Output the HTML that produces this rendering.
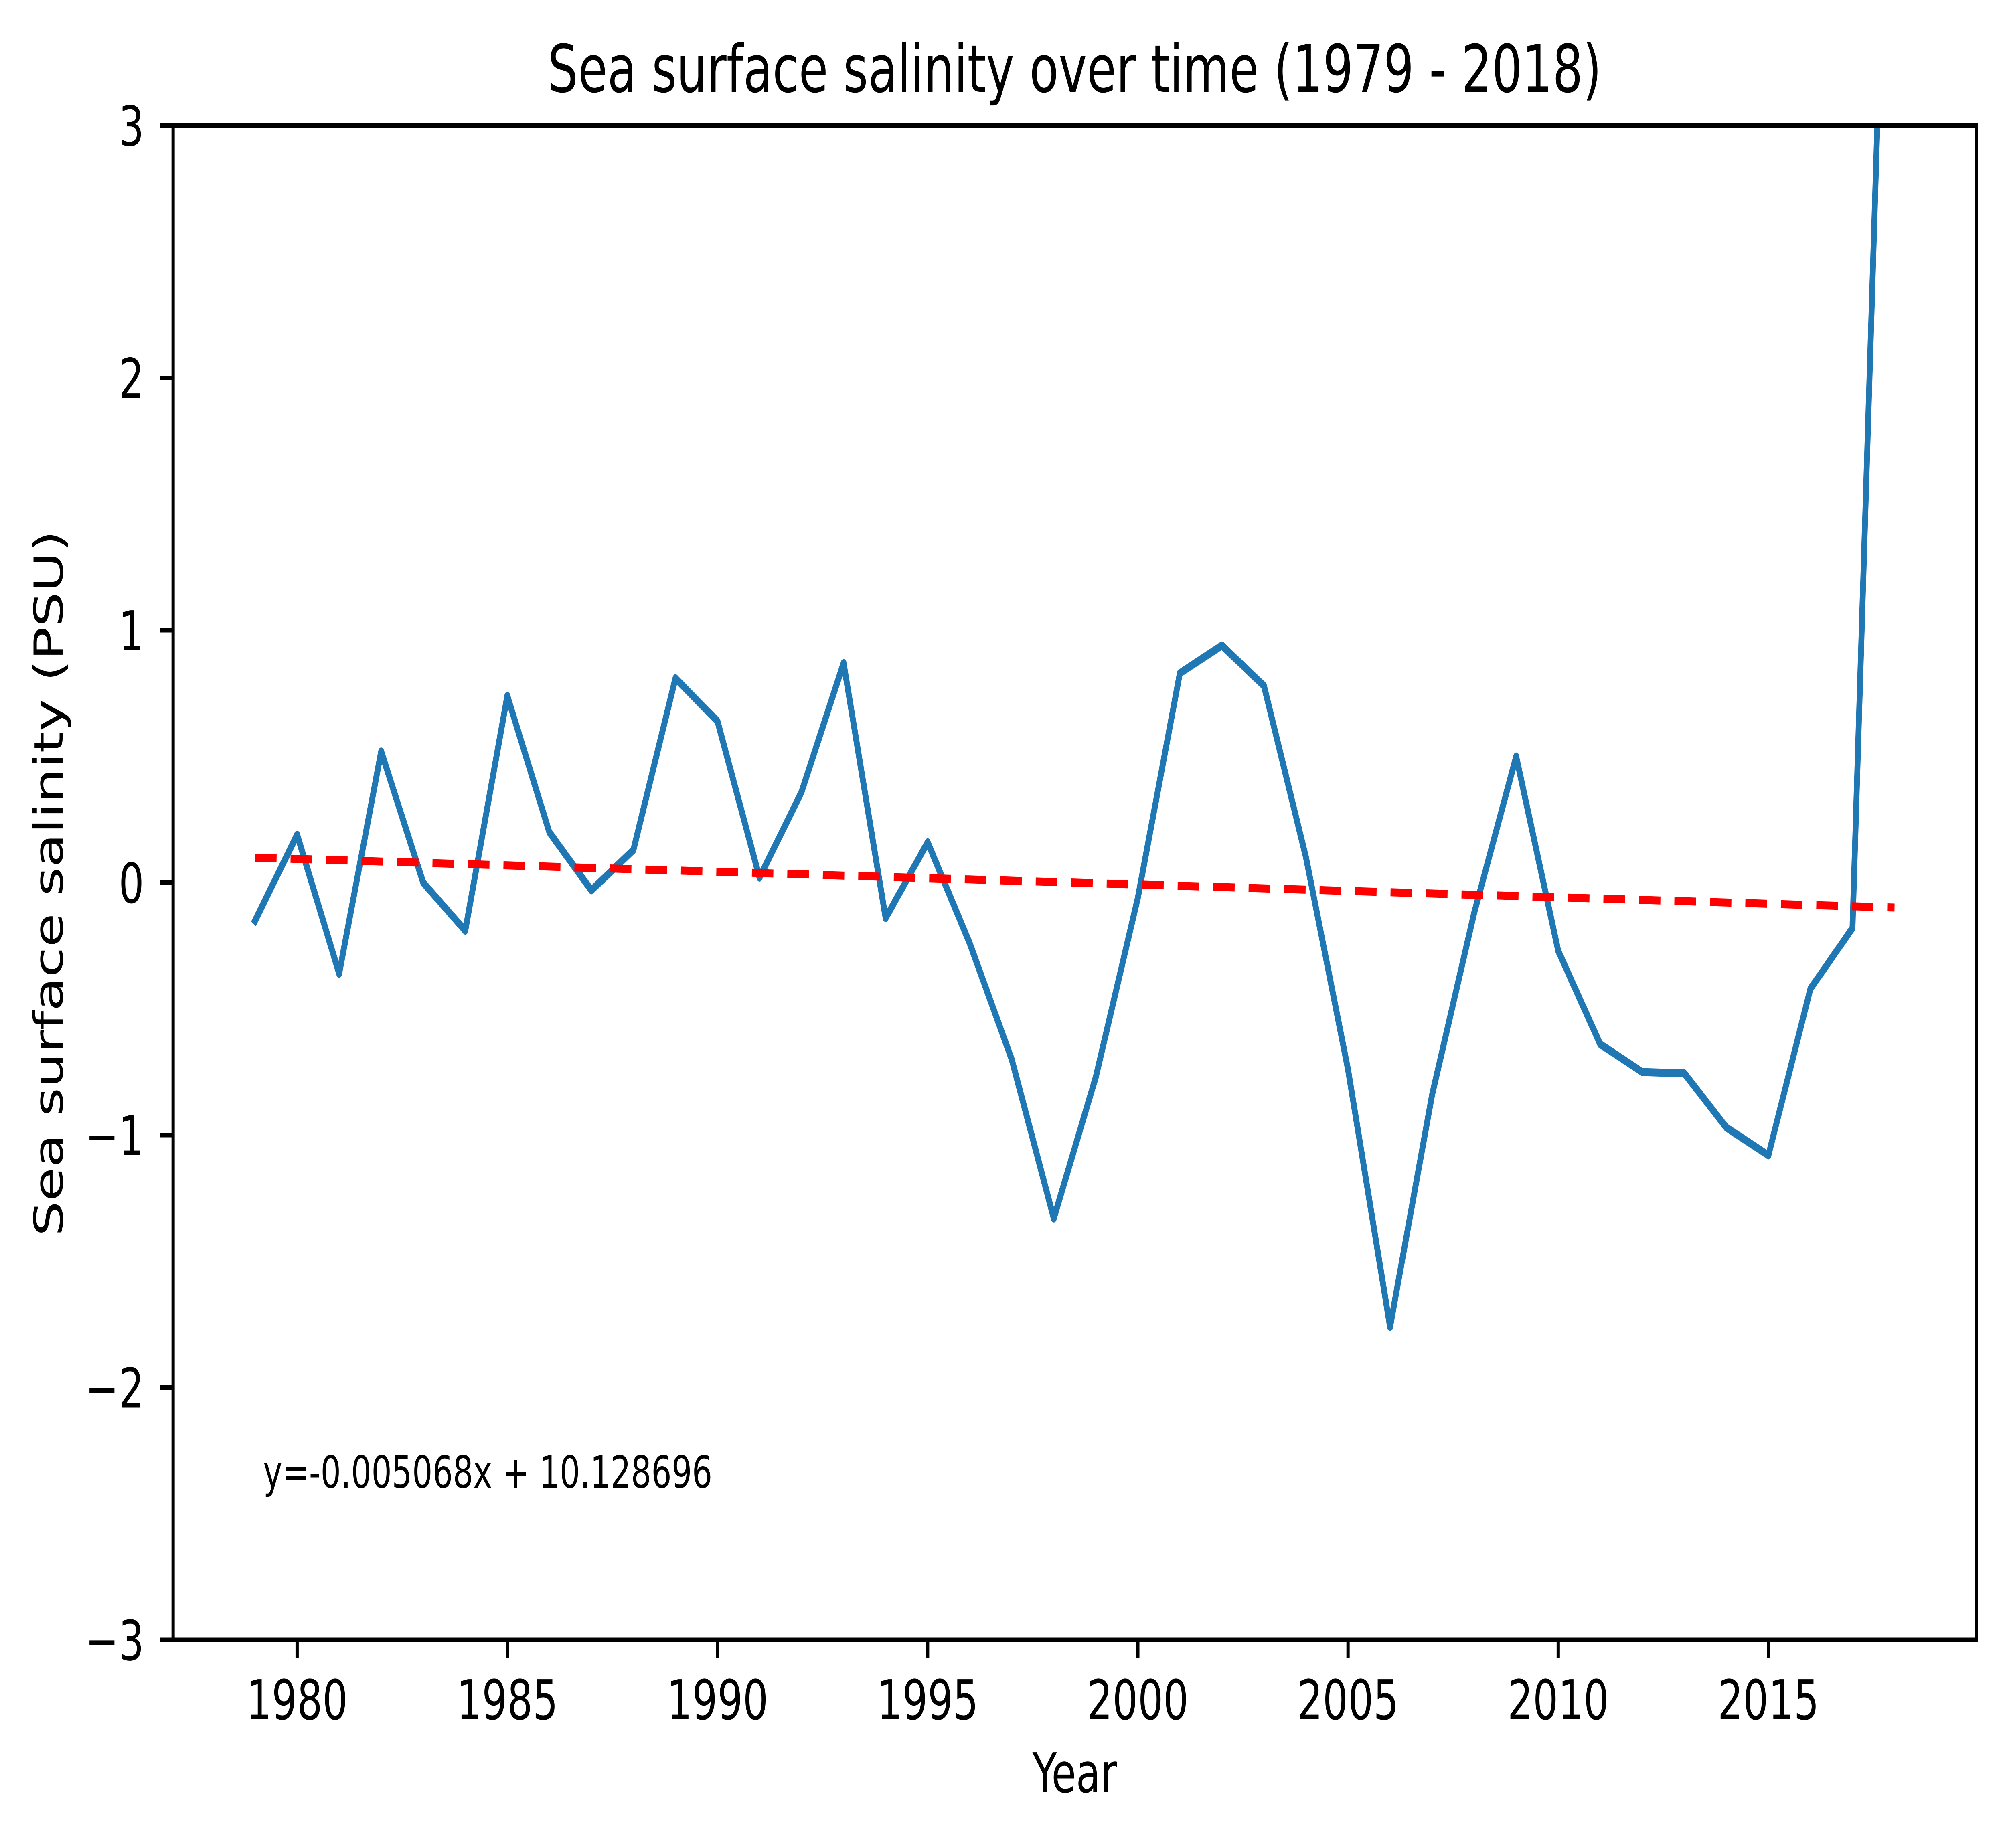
<!DOCTYPE html>
<html><head><meta charset="utf-8"><style>
html,body{margin:0;padding:0;background:#fff;overflow:hidden;width:100%;height:100%;}
svg{display:block;font-family:"DejaVu Sans","Liberation Sans",sans-serif;width:100vw;height:100vh;}
</style></head><body>
<svg id="chart" viewBox="0 0 6892 4609" preserveAspectRatio="none" xmlns="http://www.w3.org/2000/svg">
<rect x="0" y="0" width="6892" height="4609" fill="#fff"/>
<text x="3694" y="229" font-size="164" text-anchor="middle">Sea surface salinity over time (1979 - 2018)</text>
<text x="3694" y="4470" font-size="137" text-anchor="middle">Year</text>
<text x="0" y="0" font-size="137" text-anchor="middle" transform="translate(215,2203) rotate(-90)">Sea surface salinity (PSU)</text>
<defs><clipPath id="plotclip"><rect x="595" y="313" width="6199" height="3781"/></clipPath></defs>
<g id="plot" clip-path="url(#plotclip)"></g>
<g id="axes"></g>
<text x="905" y="3710" font-size="110">y=-0.005068x + 10.128696</text>
</svg>
<script>
const years = [1979,1980,1981,1982,1983,1984,1985,1986,1987,1988,1989,1990,1991,1992,1993,1994,1995,1996,1997,1998,1999,2000,2001,2002,2003,2004,2005,2006,2007,2008,2009,2010,2011,2012,2013,2014,2015,2016,2017,2018];
const salinity = [-0.15,0.19,-0.36,0.52,0.0,-0.19,0.74,0.2,-0.03,0.13,0.81,0.64,0.02,0.36,0.87,-0.14,0.16,-0.24,-0.70,-1.33,-0.77,-0.06,0.83,0.94,0.78,0.10,-0.74,-1.76,-0.84,-0.12,0.50,-0.27,-0.64,-0.75,-0.755,-0.97,-1.08,-0.42,-0.18,5.2];
const trendSlope = -0.005068;
const trendIntercept = 10.128696;
const xTicks = [1980,1985,1990,1995,2000,2005,2010,2015];
const yTicks = [-3,-2,-1,0,1,2,3];
const yTickLabels = ["\u22123","\u22122","\u22121","0","1","2","3"];

const L=595,R=6794,T=313,B=4090;
const xMin=1977.05,xMax=2019.95,yMin=-3,yMax=3;
const sx=v=>L+(v-xMin)/(xMax-xMin)*(R-L);
const sy=v=>B-(v-yMin)/(yMax-yMin)*(B-T);
const NS="http://www.w3.org/2000/svg";
const plot=document.getElementById('plot'), axes=document.getElementById('axes');
function mk(tag,attrs,parent){const e=document.createElementNS(NS,tag);for(const k in attrs)e.setAttribute(k,attrs[k]);parent.appendChild(e);return e;}

const pts=years.map((y,i)=>sx(y).toFixed(1)+','+sy(salinity[i]).toFixed(1)).join(' ');
const line=mk('polyline',{points:pts,fill:'none',stroke:'#1f77b4','stroke-width':20,'stroke-linejoin':'round','stroke-linecap':'square'},plot);



const x0=years[0],x1=years[years.length-1];
const tr=mk('line',{x1:sx(x0),y1:sy(trendSlope*x0+trendIntercept),x2:sx(x1),y2:sy(trendSlope*x1+trendIntercept),stroke:'#ff0000','stroke-width':20,'stroke-dasharray':'74 48'},plot);



const frame=mk('rect',{x:L,y:T,width:R-L,height:B-T,fill:'none',stroke:'#000','stroke-width':11},axes);



xTicks.forEach(v=>{
  const x=sx(v);
  const t=mk('line',{x1:x,y1:B,x2:x,y2:B+45,stroke:'#000','stroke-width':11},axes);
  
  
  const lb=mk('text',{x:x,y:4288,'font-size':137,'text-anchor':'middle'},axes);
  lb.textContent=v;
  
  
});
yTicks.forEach((v,i)=>{
  const y=sy(v);
  const t=mk('line',{x1:L-45,y1:y,x2:L,y2:y,stroke:'#000','stroke-width':11},axes);
  
  
  const lb=mk('text',{x:L-100,y:y+50,'font-size':137,'text-anchor':'end'},axes);
  lb.textContent=yTickLabels[i];
  
  
});
</script>
</body></html>
